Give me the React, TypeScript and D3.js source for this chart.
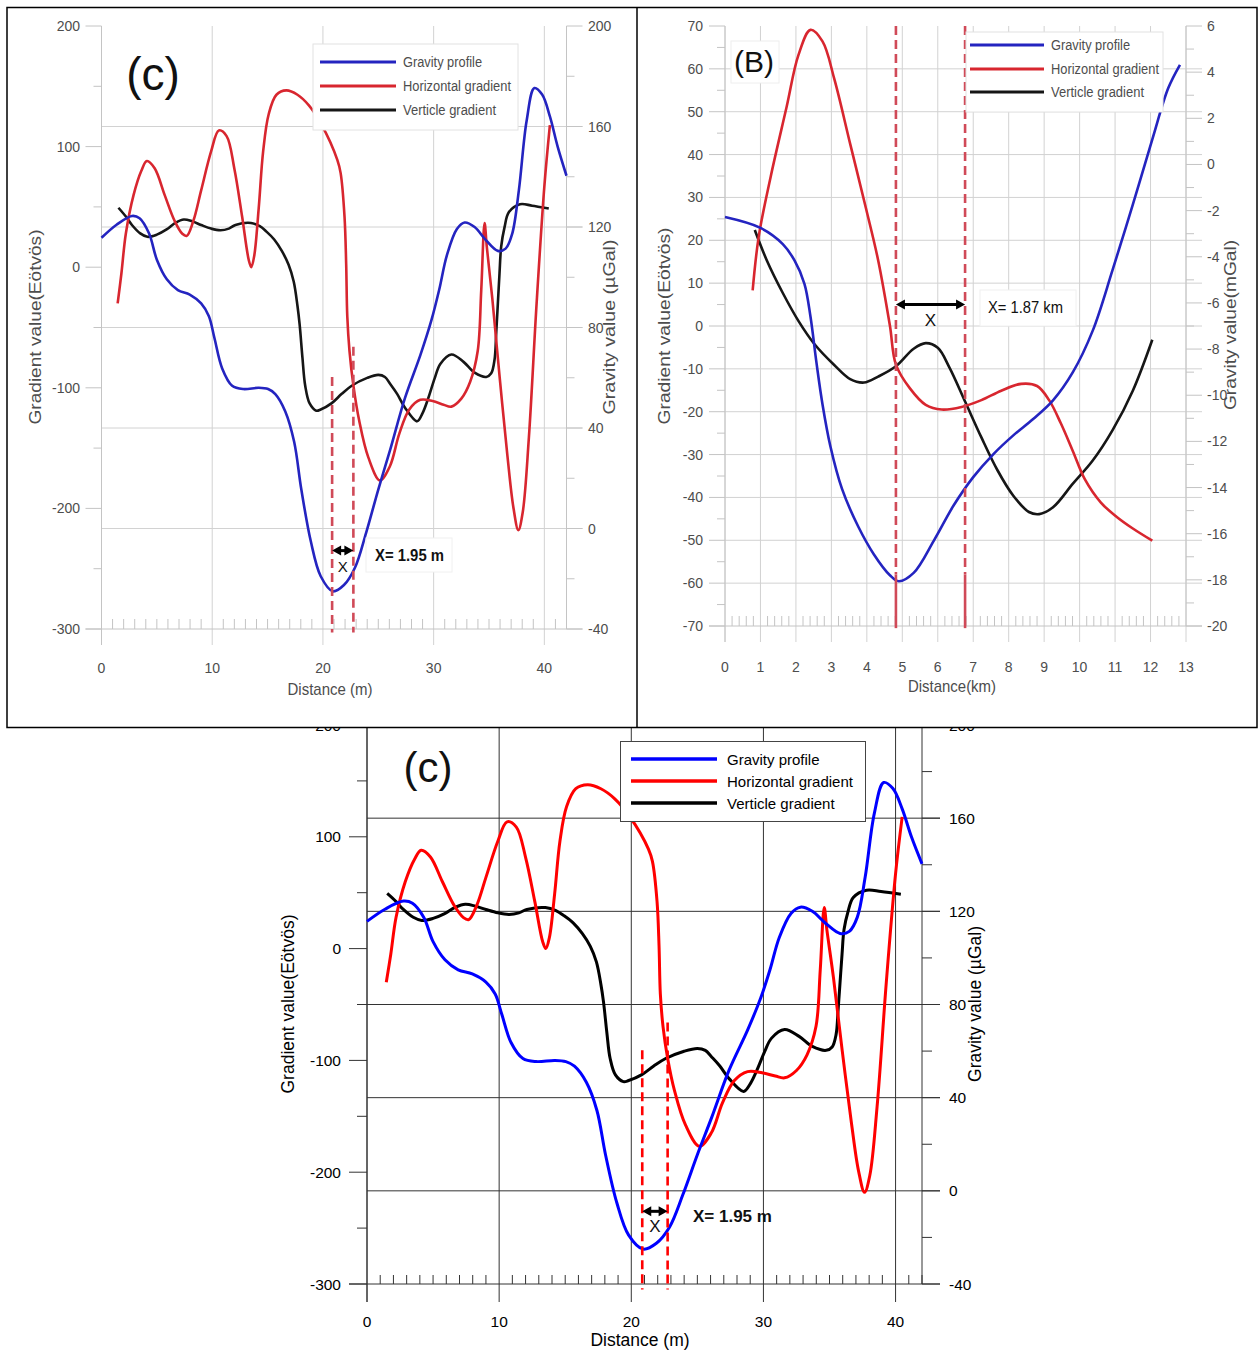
import * as d3 from 'd3'

type Pt = [number, number]

// ---------- panel (c): distance in m, gravity in µGal, gradients in Eötvös ----------
const cGravity: Pt[] = [
  [0, 115.7], [1.36, 120.9], [2.75, 124.4], [3.44, 123.5], [4.3, 117.4], [5.0, 107], [5.9, 99.2],
  [6.9, 94.9], [7.97, 93.1], [9.0, 89.6], [9.7, 84.5], [10.2, 75.8], [10.9, 63.7], [11.8, 56.8],
  [12.8, 55.5], [14.2, 56], [15.05, 55.5], [15.7, 53.5], [16.6, 46.6], [17.4, 34.5], [18.05, 15.5],
  [18.9, -5], [19.8, -19], [20.9, -25], [21.9, -22.5], [22.9, -15.5], [23.9, -1.7], [25.0, 15.5],
  [26.05, 31], [27.4, 51.8], [28.8, 69], [29.8, 82.9], [30.5, 95], [31.2, 108.8], [32.1, 119.2],
  [32.8, 121.8], [33.7, 120], [34.7, 114.9], [35.8, 110.5], [36.5, 111.4], [37.1, 117.4],
  [37.7, 134.7], [38.4, 162.3], [39.1, 175.3], [39.8, 172.7], [40.5, 164], [41.2, 152], [42, 140.4],
]
const cHorizontal: Pt[] = [
  [1.46, -30], [1.8, -5], [2.2, 28], [2.9, 60], [3.6, 80], [4.1, 88], [4.8, 82], [5.7, 60],
  [6.6, 38.5], [7.3, 27.7], [7.7, 26], [8.3, 38.5], [9.0, 63.7], [9.9, 96], [10.6, 113.4],
  [11.3, 108.7], [12.0, 81.7], [12.7, 42], [13.3, 6], [13.53, 0], [13.8, 9.7], [14.2, 49],
  [14.6, 96], [15.1, 126.8], [15.8, 143], [16.7, 146.6], [17.7, 143], [18.75, 134], [19.9, 117.8],
  [21.3, 89], [21.6, 78], [21.95, 42], [22.1, 2.5], [22.2, -40.7], [22.4, -69.5], [22.75, -98],
  [23.27, -127], [24.1, -157.7], [25.15, -176.8], [26.05, -165], [26.9, -138], [27.8, -118],
  [28.8, -110], [29.9, -111], [30.9, -114], [31.6, -115.6], [32.5, -109], [33.3, -95],
  [33.98, -69.5], [34.3, -19], [34.6, 36.7], [34.8, 17], [35.3, -26], [35.96, -91], [36.66, -156],
  [37.2, -199], [37.65, -218], [38.05, -203], [38.6, -141.5], [39.3, -30], [40, 67], [40.5, 117.8],
]
const cVertical: Pt[] = [
  [1.53, 49.3], [2.2, 42], [2.75, 35], [3.5, 28], [4.14, 25.2], [5.0, 27], [5.88, 31.3], [6.7, 37],
  [7.44, 39.6], [8.2, 38], [9.0, 35], [9.9, 32], [10.75, 30.6], [11.5, 32], [12.1, 35], [13.5, 36.7],
  [14.3, 34], [14.9, 29.5], [15.6, 23], [16.3, 13.3], [16.9, 2], [17.36, -11.9], [17.7, -32],
  [17.9, -47.9], [18.15, -75], [18.4, -98.3], [18.8, -113], [19.4, -119], [19.8, -118],
  [20.8, -112.7], [21.7, -105], [22.6, -98.3], [24, -91.8], [25, -89.3], [25.6, -91], [26.05, -96.5],
  [26.7, -105], [27.4, -116.3], [28.5, -127.8], [29.0, -121], [29.5, -109], [30.1, -92],
  [30.6, -80.3], [31.6, -72.4], [32.7, -78.5], [33.7, -87.5], [34.75, -91], [35.2, -88],
  [35.5, -76.7], [35.65, -55], [35.8, -30], [35.95, -5], [36.1, 17], [36.4, 33], [36.8, 45.7],
  [37.8, 52.2], [38.9, 51], [40.4, 48.6],
]
const cMarkers = [20.83, 22.75]
const cMarkerTops = [-91, -66]
const cXTicks = [0, 10, 20, 30, 40]
const cXMinor = d3.range(1, 43).filter((v) => v % 10 !== 0)
const cLeftTicks = [200, 100, 0, -100, -200, -300]
const cLeftMinor = [150, 50, -50, -150, -250]
const cRightTicks = [200, 160, 120, 80, 40, 0, -40]
const cRightMinor = [180, 140, 100, 60, 20, -20]
const cGrid = [160, 120, 80, 40, 0]

// ---------- panel (B): distance in km, gravity in mGal ----------
const bGravity: Pt[] = [
  [0, -2.28], [1.0, -2.75], [1.63, -3.45], [1.96, -4.16], [2.24, -5.17], [2.41, -6.59], [2.58, -8.6],
  [2.75, -10.4], [2.97, -12.2], [3.3, -14.06], [3.76, -15.7], [4.2, -16.9], [4.65, -17.8],
  [4.9, -18.06], [5.32, -17.7], [5.89, -16.3], [6.45, -14.77], [7.0, -13.55], [7.57, -12.55],
  [8.13, -11.74], [8.69, -11.03], [9.25, -10.22], [9.81, -9.0], [10.37, -7.2], [10.93, -4.57],
  [11.5, -1.74], [12.05, 1.09], [12.5, 3.31], [12.83, 4.32],
]
const bHorizontal: Pt[] = [
  [0.78, 8.3], [0.95, 20.8], [1.29, 34.9], [1.74, 51.2], [2.07, 63.2], [2.41, 69.1], [2.75, 66.4],
  [3.08, 57.7], [3.53, 42.5], [3.98, 27.3], [4.32, 15.3], [4.65, 0.1], [4.82, -9], [5.21, -14.5],
  [5.66, -18.4], [6.11, -19.5], [6.67, -18.9], [7.23, -17.3], [7.79, -15.1], [8.35, -13.5],
  [8.8, -14], [9.14, -17.3], [9.47, -22.7], [9.81, -29.2], [10.15, -35.8], [10.6, -41.2],
  [11.04, -44.5], [11.49, -47.2], [12.05, -50.1],
]
const bVertical: Pt[] = [
  [0.84, 22.4], [1.18, 15.3], [1.63, 7.7], [2.07, 1.2], [2.52, -4.2], [3.08, -9.1], [3.53, -12.4],
  [3.92, -13.2], [4.32, -11.8], [4.82, -9.4], [5.32, -5.3], [5.66, -4.0], [6.0, -5.1], [6.33, -9.7],
  [6.78, -17.8], [7.23, -26], [7.68, -33.6], [8.13, -39.6], [8.57, -43.4], [8.86, -43.9],
  [9.25, -42.3], [9.81, -36.8], [10.37, -31.4], [10.93, -24.3], [11.5, -15.1], [12.05, -3.2],
]
const bMarkers = [4.82, 6.77]
const bXTicks = [0, 1, 2, 3, 4, 5, 6, 7, 8, 9, 10, 11, 12, 13]
const bXMinor = d3.range(0, 65).map((i) => i / 5).filter((v) => Math.abs(v - Math.round(v)) > 0.01)
const bLeftTicks = [70, 60, 50, 40, 30, 20, 10, 0, -10, -20, -30, -40, -50, -60, -70]
const bLeftMinor = [65, 55, 45, 35, 25, 15, 5, -5, -15, -25, -35, -45, -55, -65]
const bRightTicks = [6, 4, 2, 0, -2, -4, -6, -8, -10, -12, -14, -16, -18, -20]
const bRightMinor = [5, 3, 1, -1, -3, -5, -7, -9, -11, -13, -15, -17, -19]
const bGrid = [60, 50, 40, 30, 20, 10, 0, -10, -20, -30, -40, -50, -60]

const legendLabels = ['Gravity profile', 'Horizontal gradient', 'Verticle gradient']

type Theme = {
  font: string
  text: string
  grid: string
  axis: string
  lineW: number
  colors: string[]
  dash: string
  dashW: number
  tickSize: number
  majorOut: number
  minorOut: number
  xMinorLen: number
}

const NARROW = '"Liberation Sans Narrow", "Arial Narrow", "Liberation Sans", Arial, sans-serif'

const topTheme: Theme = {
  font: NARROW,
  text: '#4d4d4d',
  grid: '#d2d2d2',
  axis: '#c4c4c4',
  lineW: 2.6,
  colors: ['#2424c0', '#d8262f', '#161616'],
  dash: '#d04a58',
  dashW: 2.6,
  tickSize: 14,
  majorOut: 16,
  minorOut: 8,
  xMinorLen: 10,
}
const bottomTheme: Theme = {
  font: '"Liberation Sans", Arial, sans-serif',
  text: '#000',
  grid: '#333',
  axis: '#333',
  lineW: 3,
  colors: ['#0000ff', '#ff0000', '#000000'],
  dash: '#ff0000',
  dashW: 2.6,
  tickSize: 15.5,
  majorOut: 18,
  minorOut: 10,
  xMinorLen: 9,
}

type Label = { x: number; y: number; text: string; size: number; len?: number; bold?: boolean }

type Spec = {
  xRange: [number, number]
  yRange: [number, number]
  xDomain: [number, number]
  lDomain: [number, number]
  rDomain: [number, number]
  xTicks: number[]
  xMinor: number[]
  lTicks: number[]
  lMinor: number[]
  rTicks: number[]
  rMinor: number[]
  grid: number[]
  gridAxis: 'L' | 'R'
  gravity: Pt[]
  gravityAxis: 'L' | 'R'
  horizontal: Pt[]
  vertical: Pt[]
  markers: number[]
  markerTops: number[]
  markerBottom: number
  markerSolidFrom?: number
  arrowY: number
  xMarkY: number
  leftLabelX: number
  rightLabelX: number
  xLabelY: number
  xTitle: Label
  lTitle: Label
  rTitle: Label
  tag: Label
  tagBox?: [number, number, number, number]
  note: Label
  noteBox?: [number, number, number, number]
  xMarkSize: number
  legend: { x: number; y: number; w: number; h: number; lx1: number; lx2: number; tx: number; ty: number[]; size: number; len?: number[]; stroke: string }
}

const Txt = ({ l, fill, anchor = 'start', rotate = false }: { l: Label; fill: string; anchor?: string; rotate?: boolean }) => (
  <text
    x={l.x}
    y={l.y}
    fontSize={l.size}
    fill={fill}
    textAnchor={anchor}
    fontWeight={l.bold ? 'bold' : 'normal'}
    dominantBaseline="central"
    transform={rotate ? `rotate(-90 ${l.x} ${l.y})` : undefined}
    textLength={l.len}
    lengthAdjust={l.len ? 'spacingAndGlyphs' : undefined}
  >
    {l.text}
  </text>
)

function Panel({ p, t }: { p: Spec; t: Theme }) {
  const x = d3.scaleLinear().domain(p.xDomain).range(p.xRange)
  const yl = d3.scaleLinear().domain(p.lDomain).range(p.yRange)
  const yr = d3.scaleLinear().domain(p.rDomain).range(p.yRange)
  const [x0, x1] = p.xRange
  const [yb, yt] = p.yRange
  const gy = p.gridAxis === 'L' ? yl : yr
  const mk = (s: d3.ScaleLinear<number, number>) =>
    d3.line<Pt>().x((d) => x(d[0])).y((d) => s(d[1])).curve(d3.curveCatmullRom.alpha(0.5))
  const gs = p.gravityAxis === 'L' ? yl : yr
  const ah = 7

  return (
    <g fontFamily={t.font}>
      {/* grid */}
      {p.xTicks.map((v) => (
        <line key={'vg' + v} x1={x(v)} x2={x(v)} y1={yt} y2={yb + t.majorOut} stroke={t.grid} strokeWidth={1} />
      ))}
      {p.grid.map((v) => (
        <line key={'hg' + v} x1={x0} x2={x1 + t.majorOut} y1={gy(v)} y2={gy(v)} stroke={t.grid} strokeWidth={1} />
      ))}
      <line x1={x0 - t.majorOut} x2={x1 + t.majorOut} y1={yb} y2={yb} stroke={t.axis} />
      <line x1={x0} x2={x0} y1={yt} y2={yb + t.majorOut} stroke={t.axis} />
      <line x1={x1} x2={x1} y1={yt} y2={yb} stroke={t.axis} />

      {/* ticks */}
      {p.xMinor.map((v) => (
        <line key={'xm' + v} x1={x(v)} x2={x(v)} y1={yb} y2={yb - t.xMinorLen} stroke={t.axis} />
      ))}
      {p.lTicks.map((v) => (
        <g key={'lt' + v}>
          <line x1={x0 - t.majorOut} x2={x0} y1={yl(v)} y2={yl(v)} stroke={t.axis} />
          <text x={p.leftLabelX} y={yl(v)} fontSize={t.tickSize} fill={t.text} textAnchor="end" dominantBaseline="central">
            {v}
          </text>
        </g>
      ))}
      {p.lMinor.map((v) => (
        <line key={'lm' + v} x1={x0 - t.minorOut} x2={x0} y1={yl(v)} y2={yl(v)} stroke={t.axis} />
      ))}
      {p.rTicks.map((v) => (
        <g key={'rt' + v}>
          <line x1={x1} x2={x1 + t.majorOut} y1={yr(v)} y2={yr(v)} stroke={t.axis} />
          <text x={p.rightLabelX} y={yr(v)} fontSize={t.tickSize} fill={t.text} dominantBaseline="central">
            {v}
          </text>
        </g>
      ))}
      {p.rMinor.map((v) => (
        <line key={'rm' + v} x1={x1} x2={x1 + t.minorOut} y1={yr(v)} y2={yr(v)} stroke={t.axis} />
      ))}
      {p.xTicks.map((v) => (
        <text key={'xl' + v} x={x(v)} y={p.xLabelY} fontSize={t.tickSize} fill={t.text} textAnchor="middle" dominantBaseline="central">
          {v}
        </text>
      ))}

      {/* titles */}
      <Txt l={p.xTitle} fill={t.text} anchor="middle" />
      <Txt l={p.lTitle} fill={t.text} anchor="middle" rotate />
      <Txt l={p.rTitle} fill={t.text} anchor="middle" rotate />

      {/* tag */}
      {p.tagBox && <rect x={p.tagBox[0]} y={p.tagBox[1]} width={p.tagBox[2]} height={p.tagBox[3]} fill="#fff" stroke="#eee" />}
      <Txt l={p.tag} fill="#111" anchor="middle" />

      {/* curves */}
      <path d={mk(yl)(p.vertical) ?? ''} fill="none" stroke={t.colors[2]} strokeWidth={t.lineW} />
      <path d={mk(yl)(p.horizontal) ?? ''} fill="none" stroke={t.colors[1]} strokeWidth={t.lineW} />
      <path d={mk(gs)(p.gravity) ?? ''} fill="none" stroke={t.colors[0]} strokeWidth={t.lineW} />

      {/* marker lines */}
      {p.markers.map((m, i) => (
        <g key={'mk' + i}>
          <line
            x1={x(m)}
            x2={x(m)}
            y1={yl(p.markerTops[i])}
            y2={yl(p.markerSolidFrom ?? p.markerBottom)}
            stroke={t.dash}
            strokeWidth={t.dashW}
            strokeDasharray="9,5"
          />
          {p.markerSolidFrom !== undefined && (
            <line x1={x(m)} x2={x(m)} y1={yl(p.markerSolidFrom)} y2={yl(p.markerBottom)} stroke={t.dash} strokeWidth={t.dashW} />
          )}
        </g>
      ))}

      {/* distance arrow */}
      <line
        x1={x(p.markers[0]) + ah}
        x2={x(p.markers[1]) - ah}
        y1={yl(p.arrowY)}
        y2={yl(p.arrowY)}
        stroke="#000"
        strokeWidth={3}
      />
      <path
        d={`M${x(p.markers[0])},${yl(p.arrowY)} l${ah + 2},-5 l0,10 Z M${x(p.markers[1])},${yl(p.arrowY)} l${-ah - 2},-5 l0,10 Z`}
        fill="#000"
      />
      <text
        x={(x(p.markers[0]) + x(p.markers[1])) / 2}
        y={yl(p.xMarkY)}
        fontSize={p.xMarkSize}
        fill="#111"
        textAnchor="middle"
        dominantBaseline="central"
      >
        X
      </text>
      {p.noteBox && <rect x={p.noteBox[0]} y={p.noteBox[1]} width={p.noteBox[2]} height={p.noteBox[3]} fill="#fff" stroke="#f0f0f0" />}
      <Txt l={p.note} fill="#111" />

      {/* legend */}
      <rect x={p.legend.x} y={p.legend.y} width={p.legend.w} height={p.legend.h} fill="#fff" stroke={p.legend.stroke} />
      {legendLabels.map((lab, i) => (
        <g key={lab}>
          <line x1={p.legend.lx1} x2={p.legend.lx2} y1={p.legend.ty[i]} y2={p.legend.ty[i]} stroke={t.colors[i]} strokeWidth={t.lineW + 0.6} />
          <Txt
            l={{ x: p.legend.tx, y: p.legend.ty[i], text: lab, size: p.legend.size, len: p.legend.len?.[i] }}
            fill={t.text}
          />
        </g>
      ))}
    </g>
  )
}

const topLeft: Spec = {
  xRange: [101.5, 566.5],
  yRange: [629, 26],
  xDomain: [0, 42],
  lDomain: [-300, 200],
  rDomain: [-40, 200],
  xTicks: cXTicks,
  xMinor: cXMinor,
  lTicks: cLeftTicks,
  lMinor: cLeftMinor,
  rTicks: cRightTicks,
  rMinor: cRightMinor,
  grid: cGrid,
  gridAxis: 'R',
  gravity: cGravity,
  gravityAxis: 'R',
  horizontal: cHorizontal,
  vertical: cVertical,
  markers: cMarkers,
  markerTops: cMarkerTops,
  markerBottom: -303,
  arrowY: -235,
  xMarkY: -248,
  leftLabelX: 80,
  rightLabelX: 588,
  xLabelY: 668,
  xTitle: { x: 330, y: 689, text: 'Distance (m)', size: 17, len: 85 },
  lTitle: { x: 35, y: 327, text: 'Gradient value(Eötvös)', size: 17, len: 195 },
  rTitle: { x: 609, y: 327, text: 'Gravity value (µGal)', size: 17, len: 175 },
  tag: { x: 153, y: 74, text: '(c)', size: 46 },
  note: { x: 375, y: 555, text: 'X= 1.95 m', size: 16, bold: true, len: 69 },
  noteBox: [366, 538, 86, 34],
  xMarkSize: 15,
  legend: {
    x: 313, y: 44, w: 205, h: 86, lx1: 320, lx2: 396, tx: 403, ty: [62, 86, 110], size: 14,
    len: [79, 108, 93], stroke: '#e2e2e2',
  },
}

const topRight: Spec = {
  xRange: [725, 1186],
  yRange: [626, 26],
  xDomain: [0, 13],
  lDomain: [-70, 70],
  rDomain: [-20, 6],
  xTicks: bXTicks,
  xMinor: bXMinor,
  lTicks: bLeftTicks,
  lMinor: bLeftMinor,
  rTicks: bRightTicks,
  rMinor: bRightMinor,
  grid: bGrid,
  gridAxis: 'L',
  gravity: bGravity,
  gravityAxis: 'R',
  horizontal: bHorizontal,
  vertical: bVertical,
  markers: bMarkers,
  markerTops: [70, 70],
  markerBottom: -70.5,
  markerSolidFrom: -58,
  arrowY: 5,
  xMarkY: 1.2,
  leftLabelX: 703,
  rightLabelX: 1207,
  xLabelY: 667,
  xTitle: { x: 952, y: 686, text: 'Distance(km)', size: 17, len: 88 },
  lTitle: { x: 664, y: 326, text: 'Gradient value(Eötvös)', size: 17, len: 197 },
  rTitle: { x: 1230, y: 325, text: 'Gravity value(mGal)', size: 17, len: 170 },
  tag: { x: 754, y: 61, text: '(B)', size: 30 },
  tagBox: [731, 41, 48, 42],
  note: { x: 988, y: 307, text: 'X= 1.87 km', size: 17, len: 75 },
  noteBox: [980, 290, 96, 36],
  xMarkSize: 17,
  legend: {
    x: 966, y: 32, w: 197, h: 80, lx1: 970, lx2: 1044, tx: 1051, ty: [45, 69, 92], size: 14,
    len: [79, 108, 93], stroke: '#e2e2e2',
  },
}

const bottom: Spec = {
  xRange: [367, 922],
  yRange: [1284, 725],
  xDomain: [0, 42],
  lDomain: [-300, 200],
  rDomain: [-40, 200],
  xTicks: cXTicks,
  xMinor: cXMinor,
  lTicks: cLeftTicks,
  lMinor: cLeftMinor,
  rTicks: cRightTicks,
  rMinor: cRightMinor,
  grid: cGrid,
  gridAxis: 'R',
  gravity: cGravity,
  gravityAxis: 'R',
  horizontal: cHorizontal,
  vertical: cVertical,
  markers: cMarkers,
  markerTops: cMarkerTops,
  markerBottom: -305,
  arrowY: -235,
  xMarkY: -249,
  leftLabelX: 341,
  rightLabelX: 949,
  xLabelY: 1321,
  xTitle: { x: 640, y: 1340, text: 'Distance (m)', size: 17.5 },
  lTitle: { x: 288, y: 1004, text: 'Gradient value(Eötvös)', size: 17.5 },
  rTitle: { x: 975, y: 1004, text: 'Gravity value (µGal)', size: 17.5 },
  tag: { x: 428, y: 767, text: '(c)', size: 42 },
  note: { x: 693, y: 1216, text: 'X= 1.95 m', size: 17, bold: true },
  xMarkSize: 17,
  legend: {
    x: 620.5, y: 741.5, w: 245, h: 80, lx1: 631, lx2: 717, tx: 727, ty: [759, 781, 803], size: 15,
    stroke: '#444',
  },
}

export default function App() {
  return (
    <svg
      width={1258}
      height={1352}
      viewBox="0 0 1258 1352"
      style={{ position: 'absolute', left: 0, top: 0, background: '#fff' }}
    >
      <rect width={1258} height={1352} fill="#fff" />
      <Panel p={bottom} t={bottomTheme} />
      <rect x={7} y={7.5} width={1250} height={720} fill="#fff" stroke="#000" strokeWidth={1.5} />
      <line x1={637} x2={637} y1={7.5} y2={727.5} stroke="#000" strokeWidth={1.5} />
      <Panel p={topLeft} t={topTheme} />
      <Panel p={topRight} t={topTheme} />
    </svg>
  )
}
